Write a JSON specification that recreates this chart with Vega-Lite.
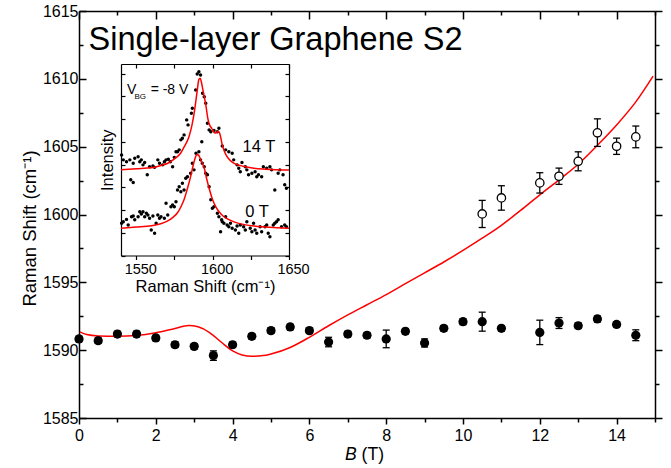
{
  "$schema": "https://vega.github.io/schema/vega-lite/v6.json",
  "width": 576,
  "height": 407,
  "autosize": {"type": "none"},
  "padding": {"left": 79, "top": 11, "right": 16, "bottom": 50},
  "background": "white",
  "config": {
    "view": {"stroke": null},
    "axis": {"grid": false, "domainColor": "black", "tickColor": "black", "labelColor": "black", "titleColor": "black", "labelFont": "Liberation Sans", "titleFont": "Liberation Sans", "labelOverlap": false, "labelFlush": false},
    "text": {"font": "Liberation Sans", "color": "black"}
  },
  "datasets": {
    "one": [{}],
    "curve": [
      {"B": 0.02, "v": 1591.35}, {"B": 0.2, "v": 1591.15}, {"B": 0.5, "v": 1591.05}, {"B": 1.0, "v": 1591.02},
      {"B": 1.5, "v": 1591.08}, {"B": 2.0, "v": 1591.28}, {"B": 2.5, "v": 1591.6}, {"B": 2.85, "v": 1591.82},
      {"B": 3.1, "v": 1591.72}, {"B": 3.4, "v": 1591.3}, {"B": 3.7, "v": 1590.6}, {"B": 4.0, "v": 1589.95},
      {"B": 4.25, "v": 1589.65}, {"B": 4.5, "v": 1589.55}, {"B": 4.8, "v": 1589.6}, {"B": 5.0, "v": 1589.72},
      {"B": 5.5, "v": 1590.2}, {"B": 6.0, "v": 1590.95}, {"B": 6.5, "v": 1591.8}, {"B": 7.0, "v": 1592.6},
      {"B": 7.5, "v": 1593.35}, {"B": 8.0, "v": 1594.1}, {"B": 8.5, "v": 1594.9}, {"B": 9.0, "v": 1595.7},
      {"B": 9.5, "v": 1596.5}, {"B": 10.0, "v": 1597.35}, {"B": 10.5, "v": 1598.25}, {"B": 11.0, "v": 1599.2},
      {"B": 11.5, "v": 1600.3}, {"B": 12.0, "v": 1601.45}, {"B": 12.5, "v": 1602.55}, {"B": 13.0, "v": 1603.7},
      {"B": 13.5, "v": 1605.1}, {"B": 14.0, "v": 1606.6}, {"B": 14.5, "v": 1608.3}, {"B": 14.95, "v": 1610.2}
    ],
    "filled": [
      {"B": 0, "v": 1590.83, "lo": 1590.63, "hi": 1591.03},
      {"B": 0.5, "v": 1590.7, "lo": 1590.5, "hi": 1590.9},
      {"B": 1, "v": 1591.19, "lo": 1590.99, "hi": 1591.39},
      {"B": 1.5, "v": 1591.19, "lo": 1590.99, "hi": 1591.39},
      {"B": 2, "v": 1590.9, "lo": 1590.7, "hi": 1591.1},
      {"B": 2.5, "v": 1590.4, "lo": 1590.2, "hi": 1590.6},
      {"B": 3, "v": 1590.28, "lo": 1590.08, "hi": 1590.48},
      {"B": 3.5, "v": 1589.6, "lo": 1589.25, "hi": 1589.95},
      {"B": 4, "v": 1590.4, "lo": 1590.2, "hi": 1590.6},
      {"B": 4.5, "v": 1591.02, "lo": 1590.82, "hi": 1591.22},
      {"B": 5, "v": 1591.44, "lo": 1591.24, "hi": 1591.64},
      {"B": 5.5, "v": 1591.71, "lo": 1591.51, "hi": 1591.91},
      {"B": 6, "v": 1591.44, "lo": 1591.24, "hi": 1591.64},
      {"B": 6.5, "v": 1590.6, "lo": 1590.25, "hi": 1590.95},
      {"B": 7, "v": 1591.19, "lo": 1590.99, "hi": 1591.39},
      {"B": 7.5, "v": 1591.1, "lo": 1590.9, "hi": 1591.3},
      {"B": 8, "v": 1590.83, "lo": 1590.18, "hi": 1591.48},
      {"B": 8.5, "v": 1591.39, "lo": 1591.19, "hi": 1591.59},
      {"B": 9, "v": 1590.53, "lo": 1590.23, "hi": 1590.83},
      {"B": 9.5, "v": 1591.61, "lo": 1591.41, "hi": 1591.81},
      {"B": 10, "v": 1592.1, "lo": 1591.88, "hi": 1592.32},
      {"B": 10.5, "v": 1592.1, "lo": 1591.4, "hi": 1592.8},
      {"B": 11, "v": 1591.61, "lo": 1591.41, "hi": 1591.81},
      {"B": 12, "v": 1591.31, "lo": 1590.41, "hi": 1592.21},
      {"B": 12.5, "v": 1592.0, "lo": 1591.6, "hi": 1592.4},
      {"B": 13, "v": 1591.8, "lo": 1591.6, "hi": 1592.0},
      {"B": 13.5, "v": 1592.3, "lo": 1592.08, "hi": 1592.52},
      {"B": 14, "v": 1591.9, "lo": 1591.7, "hi": 1592.1},
      {"B": 14.5, "v": 1591.1, "lo": 1590.7, "hi": 1591.5}
    ],
    "open": [
      {"B": 10.5, "v": 1600.04, "lo": 1599.04, "hi": 1601.04},
      {"B": 11, "v": 1601.22, "lo": 1600.32, "hi": 1602.12},
      {"B": 12, "v": 1602.33, "lo": 1601.58, "hi": 1603.08},
      {"B": 12.5, "v": 1602.82, "lo": 1602.22, "hi": 1603.42},
      {"B": 13, "v": 1603.92, "lo": 1603.22, "hi": 1604.62},
      {"B": 13.5, "v": 1606.02, "lo": 1605.02, "hi": 1607.05},
      {"B": 14, "v": 1605.03, "lo": 1604.43, "hi": 1605.63},
      {"B": 14.5, "v": 1605.72, "lo": 1604.92, "hi": 1606.52}
    ],
    "fit": [
      {"s": "14T", "R": 1540, "I": 37.8}, {"s": "14T", "R": 1550, "I": 38.2}, {"s": "14T", "R": 1560, "I": 38.6},
      {"s": "14T", "R": 1566, "I": 39.6}, {"s": "14T", "R": 1570.6, "I": 40.6}, {"s": "14T", "R": 1575, "I": 42.5},
      {"s": "14T", "R": 1579, "I": 45}, {"s": "14T", "R": 1581.5, "I": 48}, {"s": "14T", "R": 1584.5, "I": 52.3},
      {"s": "14T", "R": 1586.5, "I": 57.5}, {"s": "14T", "R": 1588.2, "I": 64}, {"s": "14T", "R": 1589.8, "I": 72},
      {"s": "14T", "R": 1591.0, "I": 77.5}, {"s": "14T", "R": 1591.8, "I": 78}, {"s": "14T", "R": 1592.6, "I": 76.5},
      {"s": "14T", "R": 1593.6, "I": 73}, {"s": "14T", "R": 1594.5, "I": 69.9}, {"s": "14T", "R": 1595.6, "I": 66},
      {"s": "14T", "R": 1596.8, "I": 60.5}, {"s": "14T", "R": 1598, "I": 57.5}, {"s": "14T", "R": 1599.4, "I": 56},
      {"s": "14T", "R": 1601, "I": 54.2}, {"s": "14T", "R": 1602, "I": 53.9}, {"s": "14T", "R": 1603.2, "I": 54.6},
      {"s": "14T", "R": 1604.2, "I": 54.4}, {"s": "14T", "R": 1605.2, "I": 52.3}, {"s": "14T", "R": 1606.2, "I": 49},
      {"s": "14T", "R": 1607.3, "I": 46.5}, {"s": "14T", "R": 1608.5, "I": 44.6}, {"s": "14T", "R": 1610.5, "I": 42.6},
      {"s": "14T", "R": 1613, "I": 41}, {"s": "14T", "R": 1616, "I": 40}, {"s": "14T", "R": 1620, "I": 39.3},
      {"s": "14T", "R": 1626, "I": 38.5}, {"s": "14T", "R": 1635, "I": 38}, {"s": "14T", "R": 1650, "I": 37.6},
      {"s": "0T", "R": 1540, "I": 12}, {"s": "0T", "R": 1550, "I": 12.5}, {"s": "0T", "R": 1560, "I": 13.1},
      {"s": "0T", "R": 1566, "I": 14}, {"s": "0T", "R": 1570, "I": 15}, {"s": "0T", "R": 1574, "I": 16.8},
      {"s": "0T", "R": 1577, "I": 18.8}, {"s": "0T", "R": 1579.5, "I": 21.8}, {"s": "0T", "R": 1581.5, "I": 25},
      {"s": "0T", "R": 1583.5, "I": 29.5}, {"s": "0T", "R": 1585.5, "I": 34.5}, {"s": "0T", "R": 1587.2, "I": 39.5},
      {"s": "0T", "R": 1588.5, "I": 42.8}, {"s": "0T", "R": 1589.7, "I": 44.5}, {"s": "0T", "R": 1590.8, "I": 44.2},
      {"s": "0T", "R": 1592, "I": 42.5}, {"s": "0T", "R": 1593.3, "I": 40.5}, {"s": "0T", "R": 1594.5, "I": 38.5},
      {"s": "0T", "R": 1596, "I": 34}, {"s": "0T", "R": 1597.7, "I": 29.6}, {"s": "0T", "R": 1600, "I": 24.5},
      {"s": "0T", "R": 1602, "I": 21.5}, {"s": "0T", "R": 1604.5, "I": 19}, {"s": "0T", "R": 1607, "I": 17.3},
      {"s": "0T", "R": 1610, "I": 16}, {"s": "0T", "R": 1614, "I": 14.8}, {"s": "0T", "R": 1620, "I": 13.7},
      {"s": "0T", "R": 1630, "I": 12.8}, {"s": "0T", "R": 1640, "I": 12.3}, {"s": "0T", "R": 1650, "I": 12}
    ],
    "dots": [
      {"s": "14T", "R": 1540.4, "I": 44.2}, {"s": "14T", "R": 1541.5, "I": 42.1}, {"s": "14T", "R": 1543.6, "I": 41.3},
      {"s": "14T", "R": 1545.8, "I": 42.1}, {"s": "14T", "R": 1548.0, "I": 40.6}, {"s": "14T", "R": 1549.0, "I": 42.8},
      {"s": "14T", "R": 1546.4, "I": 33.3}, {"s": "14T", "R": 1548.0, "I": 32.1}, {"s": "14T", "R": 1551.2, "I": 43.5},
      {"s": "14T", "R": 1552.3, "I": 41.3}, {"s": "14T", "R": 1553.3, "I": 42.1}, {"s": "14T", "R": 1554.4, "I": 39.9},
      {"s": "14T", "R": 1555.5, "I": 40.9}, {"s": "14T", "R": 1557.2, "I": 35.5}, {"s": "14T", "R": 1558.7, "I": 39.1},
      {"s": "14T", "R": 1560.9, "I": 39.4}, {"s": "14T", "R": 1562.0, "I": 38.8}, {"s": "14T", "R": 1564.1, "I": 42.1},
      {"s": "14T", "R": 1565.2, "I": 40.6}, {"s": "14T", "R": 1567.3, "I": 39.9}, {"s": "14T", "R": 1568.4, "I": 41.3},
      {"s": "14T", "R": 1569.5, "I": 42.1}, {"s": "14T", "R": 1571.0, "I": 42.4}, {"s": "14T", "R": 1572.3, "I": 41.3},
      {"s": "14T", "R": 1573.8, "I": 39.1}, {"s": "14T", "R": 1574.9, "I": 43.2}, {"s": "14T", "R": 1576.0, "I": 45.7},
      {"s": "14T", "R": 1577.0, "I": 45.7}, {"s": "14T", "R": 1578.1, "I": 46.5}, {"s": "14T", "R": 1579.2, "I": 50.9},
      {"s": "14T", "R": 1580.2, "I": 51.6}, {"s": "14T", "R": 1581.3, "I": 53.1}, {"s": "14T", "R": 1583.0, "I": 59.7},
      {"s": "14T", "R": 1583.9, "I": 57.5}, {"s": "14T", "R": 1586.1, "I": 62.6}, {"s": "14T", "R": 1586.7, "I": 64.8},
      {"s": "14T", "R": 1588.9, "I": 72.9}, {"s": "14T", "R": 1589.9, "I": 79.9}, {"s": "14T", "R": 1591.0, "I": 80.9},
      {"s": "14T", "R": 1592.1, "I": 79.5}, {"s": "14T", "R": 1592.9, "I": 50.1}, {"s": "14T", "R": 1593.4, "I": 71.4},
      {"s": "14T", "R": 1594.5, "I": 69.9}, {"s": "14T", "R": 1595.5, "I": 67.0}, {"s": "14T", "R": 1596.6, "I": 58.2},
      {"s": "14T", "R": 1597.7, "I": 55.3}, {"s": "14T", "R": 1598.8, "I": 54.5}, {"s": "14T", "R": 1600.9, "I": 55.0},
      {"s": "14T", "R": 1603.1, "I": 54.5}, {"s": "14T", "R": 1604.1, "I": 56.0}, {"s": "14T", "R": 1606.3, "I": 48.2},
      {"s": "14T", "R": 1608.5, "I": 46.5}, {"s": "14T", "R": 1610.6, "I": 45.7}, {"s": "14T", "R": 1612.8, "I": 45.0},
      {"s": "14T", "R": 1613.8, "I": 42.1}, {"s": "14T", "R": 1616.0, "I": 39.9}, {"s": "14T", "R": 1617.1, "I": 38.4},
      {"s": "14T", "R": 1618.1, "I": 36.9}, {"s": "14T", "R": 1619.2, "I": 40.9}, {"s": "14T", "R": 1621.4, "I": 39.1},
      {"s": "14T", "R": 1622.4, "I": 37.7}, {"s": "14T", "R": 1623.5, "I": 35.5}, {"s": "14T", "R": 1625.7, "I": 36.2},
      {"s": "14T", "R": 1627.8, "I": 36.9}, {"s": "14T", "R": 1628.9, "I": 34.7}, {"s": "14T", "R": 1630.0, "I": 35.5},
      {"s": "14T", "R": 1632.1, "I": 34.7}, {"s": "14T", "R": 1633.2, "I": 39.1}, {"s": "14T", "R": 1635.4, "I": 38.4},
      {"s": "14T", "R": 1637.5, "I": 39.1}, {"s": "14T", "R": 1638.6, "I": 37.7}, {"s": "14T", "R": 1640.7, "I": 28.8},
      {"s": "14T", "R": 1642.9, "I": 36.2}, {"s": "14T", "R": 1644.0, "I": 37.7}, {"s": "14T", "R": 1646.1, "I": 35.5},
      {"s": "14T", "R": 1647.2, "I": 31.1}, {"s": "14T", "R": 1648.3, "I": 29.6},
      {"s": "0T", "R": 1540.4, "I": 14.2}, {"s": "0T", "R": 1541.5, "I": 14.9}, {"s": "0T", "R": 1543.6, "I": 15.9},
      {"s": "0T", "R": 1544.7, "I": 13.4}, {"s": "0T", "R": 1546.9, "I": 17.1}, {"s": "0T", "R": 1548.0, "I": 17.4},
      {"s": "0T", "R": 1549.0, "I": 15.7}, {"s": "0T", "R": 1551.2, "I": 17.1}, {"s": "0T", "R": 1552.3, "I": 19.3},
      {"s": "0T", "R": 1553.3, "I": 18.3}, {"s": "0T", "R": 1554.4, "I": 19.3}, {"s": "0T", "R": 1555.5, "I": 17.1},
      {"s": "0T", "R": 1556.6, "I": 18.6}, {"s": "0T", "R": 1557.6, "I": 17.8}, {"s": "0T", "R": 1558.7, "I": 16.4},
      {"s": "0T", "R": 1559.8, "I": 11.2}, {"s": "0T", "R": 1560.9, "I": 17.4}, {"s": "0T", "R": 1562.0, "I": 9.8},
      {"s": "0T", "R": 1563.0, "I": 14.2}, {"s": "0T", "R": 1564.1, "I": 17.8}, {"s": "0T", "R": 1565.2, "I": 16.4},
      {"s": "0T", "R": 1566.2, "I": 17.1}, {"s": "0T", "R": 1568.4, "I": 16.4}, {"s": "0T", "R": 1569.5, "I": 23.0},
      {"s": "0T", "R": 1570.6, "I": 17.8}, {"s": "0T", "R": 1572.7, "I": 21.5}, {"s": "0T", "R": 1573.8, "I": 22.2},
      {"s": "0T", "R": 1574.9, "I": 21.5}, {"s": "0T", "R": 1576.0, "I": 23.7}, {"s": "0T", "R": 1577.0, "I": 28.8},
      {"s": "0T", "R": 1578.1, "I": 30.3}, {"s": "0T", "R": 1579.2, "I": 28.1}, {"s": "0T", "R": 1580.2, "I": 31.8},
      {"s": "0T", "R": 1581.3, "I": 28.8}, {"s": "0T", "R": 1582.4, "I": 34.0}, {"s": "0T", "R": 1583.5, "I": 34.7},
      {"s": "0T", "R": 1585.6, "I": 36.2}, {"s": "0T", "R": 1586.7, "I": 40.6}, {"s": "0T", "R": 1587.8, "I": 37.7},
      {"s": "0T", "R": 1589.1, "I": 45.0}, {"s": "0T", "R": 1591.0, "I": 45.7}, {"s": "0T", "R": 1592.1, "I": 42.1},
      {"s": "0T", "R": 1593.2, "I": 40.6}, {"s": "0T", "R": 1594.5, "I": 39.1}, {"s": "0T", "R": 1595.5, "I": 36.2},
      {"s": "0T", "R": 1596.6, "I": 35.5}, {"s": "0T", "R": 1597.7, "I": 30.3}, {"s": "0T", "R": 1598.8, "I": 24.5},
      {"s": "0T", "R": 1599.8, "I": 20.8}, {"s": "0T", "R": 1600.9, "I": 21.5}, {"s": "0T", "R": 1603.1, "I": 18.6},
      {"s": "0T", "R": 1604.1, "I": 17.1}, {"s": "0T", "R": 1605.2, "I": 10.5}, {"s": "0T", "R": 1605.9, "I": 15.7},
      {"s": "0T", "R": 1606.3, "I": 14.9}, {"s": "0T", "R": 1607.4, "I": 14.2}, {"s": "0T", "R": 1608.5, "I": 17.1},
      {"s": "0T", "R": 1609.5, "I": 13.4}, {"s": "0T", "R": 1610.6, "I": 12.7}, {"s": "0T", "R": 1611.7, "I": 14.2},
      {"s": "0T", "R": 1612.8, "I": 12.0}, {"s": "0T", "R": 1614.9, "I": 11.2}, {"s": "0T", "R": 1616.0, "I": 13.0},
      {"s": "0T", "R": 1617.1, "I": 9.8}, {"s": "0T", "R": 1618.1, "I": 13.4}, {"s": "0T", "R": 1620.3, "I": 12.7},
      {"s": "0T", "R": 1621.4, "I": 11.2}, {"s": "0T", "R": 1622.4, "I": 14.9}, {"s": "0T", "R": 1624.6, "I": 12.0},
      {"s": "0T", "R": 1625.7, "I": 10.5}, {"s": "0T", "R": 1626.8, "I": 14.2}, {"s": "0T", "R": 1627.8, "I": 11.2},
      {"s": "0T", "R": 1628.9, "I": 9.8}, {"s": "0T", "R": 1631.1, "I": 12.7}, {"s": "0T", "R": 1632.1, "I": 10.5},
      {"s": "0T", "R": 1634.3, "I": 12.7}, {"s": "0T", "R": 1635.4, "I": 13.4}, {"s": "0T", "R": 1636.4, "I": 9.8},
      {"s": "0T", "R": 1637.5, "I": 8.3}, {"s": "0T", "R": 1639.7, "I": 13.4}, {"s": "0T", "R": 1640.7, "I": 14.2},
      {"s": "0T", "R": 1641.8, "I": 14.9}, {"s": "0T", "R": 1642.9, "I": 15.7}, {"s": "0T", "R": 1645.1, "I": 12.7},
      {"s": "0T", "R": 1647.2, "I": 13.4}, {"s": "0T", "R": 1648.3, "I": 12.7}
    ]
  },
  "layer": [
    {
      "layer": [
        {
          "data": {"name": "curve"},
          "mark": {"type": "line", "color": "#ff0000", "strokeWidth": 1.5, "interpolate": "monotone"},
          "encoding": {
            "x": {"field": "B", "type": "quantitative", "scale": {"domain": [0, 15], "nice": false, "zero": false},
              "axis": {"orient": "bottom", "values": [0,1,2,3,4,5,6,7,8,9,10,11,12,13,14,15], "format": "d",
                "labelExpr": "datum.value % 2 === 0 ? datum.label : ''",
                "tickSize": {"condition": {"test": "datum.value % 2 === 0", "value": 6}, "value": 4},
                "labelFontSize": 16, "labelPadding": 3, "title": null, "domainWidth": 1.5, "tickWidth": 1.5}},
            "y": {"field": "v", "type": "quantitative", "scale": {"domain": [1585, 1615], "nice": false, "zero": false},
              "axis": {"orient": "left", "values": [1585,1587.5,1590,1592.5,1595,1597.5,1600,1602.5,1605,1607.5,1610,1612.5,1615], "format": "d",
                "labelExpr": "datum.value % 5 === 0 ? datum.label : ''",
                "tickSize": {"condition": {"test": "datum.value % 5 === 0", "value": -7}, "value": -4},
                "labelFontSize": 16, "labelPadding": 8, "title": "Raman Shift (cm⁻¹)", "titleFontSize": 18.5,
                "titleFontWeight": "normal", "titlePadding": 3, "titleY": 217, "domainWidth": 1.5, "tickWidth": 1.5}}
          }
        },
        {
          "data": {"name": "curve"},
          "mark": {"type": "point", "opacity": 0},
          "encoding": {
            "x": {"field": "B", "type": "quantitative", "scale": {"domain": [0, 15], "nice": false, "zero": false},
              "axis": {"orient": "top", "values": [0,1,2,3,4,5,6,7,8,9,10,11,12,13,14,15], "labels": false,
                "tickSize": {"condition": {"test": "datum.value % 2 === 0", "value": -8}, "value": -4},
                "title": null, "domainWidth": 1.5, "tickWidth": 1.5}},
            "y": {"field": "v", "type": "quantitative", "scale": {"domain": [1585, 1615], "nice": false, "zero": false},
              "axis": {"orient": "right", "values": [1585,1587.5,1590,1592.5,1595,1597.5,1600,1602.5,1605,1607.5,1610,1612.5,1615], "labels": false,
                "tickSize": {"condition": {"test": "datum.value % 5 === 0", "value": 7}, "value": 4},
                "title": null, "domainWidth": 1.5, "tickWidth": 1.5}}
          }
        },
        {
          "data": {"name": "filled"},
          "mark": {"type": "rule", "color": "black", "strokeWidth": 1.3},
          "encoding": {
            "x": {"field": "B", "type": "quantitative", "axis": null},
            "y": {"field": "lo", "type": "quantitative", "axis": null},
            "y2": {"field": "hi"}
          }
        },
        {
          "data": {"name": "filled"},
          "mark": {"type": "tick", "orient": "horizontal", "color": "black", "size": 7, "thickness": 1.3, "opacity": 1},
          "encoding": {
            "x": {"field": "B", "type": "quantitative", "axis": null},
            "y": {"field": "lo", "type": "quantitative", "axis": null}
          }
        },
        {
          "data": {"name": "filled"},
          "mark": {"type": "tick", "orient": "horizontal", "color": "black", "size": 7, "thickness": 1.3, "opacity": 1},
          "encoding": {
            "x": {"field": "B", "type": "quantitative", "axis": null},
            "y": {"field": "hi", "type": "quantitative", "axis": null}
          }
        },
        {
          "data": {"name": "filled"},
          "mark": {"type": "point", "shape": "circle", "filled": true, "color": "black", "size": 85, "opacity": 1},
          "encoding": {
            "x": {"field": "B", "type": "quantitative", "axis": null},
            "y": {"field": "v", "type": "quantitative", "axis": null}
          }
        },
        {
          "data": {"name": "open"},
          "mark": {"type": "rule", "color": "black", "strokeWidth": 1.3},
          "encoding": {
            "x": {"field": "B", "type": "quantitative", "axis": null},
            "y": {"field": "lo", "type": "quantitative", "axis": null},
            "y2": {"field": "hi"}
          }
        },
        {
          "data": {"name": "open"},
          "mark": {"type": "tick", "orient": "horizontal", "color": "black", "size": 7, "thickness": 1.3, "opacity": 1},
          "encoding": {
            "x": {"field": "B", "type": "quantitative", "axis": null},
            "y": {"field": "lo", "type": "quantitative", "axis": null}
          }
        },
        {
          "data": {"name": "open"},
          "mark": {"type": "tick", "orient": "horizontal", "color": "black", "size": 7, "thickness": 1.3, "opacity": 1},
          "encoding": {
            "x": {"field": "B", "type": "quantitative", "axis": null},
            "y": {"field": "hi", "type": "quantitative", "axis": null}
          }
        },
        {
          "data": {"name": "open"},
          "mark": {"type": "point", "shape": "circle", "filled": false, "fill": "white", "stroke": "black", "strokeWidth": 1.3, "size": 70, "opacity": 1, "fillOpacity": 1},
          "encoding": {
            "x": {"field": "B", "type": "quantitative", "axis": null},
            "y": {"field": "v", "type": "quantitative", "axis": null}
          }
        },
        {
          "data": {"name": "one"},
          "mark": {"type": "text", "text": "Single-layer Graphene S2", "fontSize": 32.5, "align": "left", "baseline": "alphabetic"},
          "encoding": {
            "x": {"datum": 0.25, "type": "quantitative", "axis": null},
            "y": {"datum": 1612.16, "type": "quantitative", "axis": null}
          }
        },
        {
          "data": {"name": "one"},
          "mark": {"type": "text", "text": "B", "fontSize": 17.5, "fontStyle": "italic", "align": "left", "baseline": "alphabetic"},
          "encoding": {
            "x": {"datum": 6.93, "type": "quantitative", "axis": null},
            "y": {"datum": 1581.87, "type": "quantitative", "axis": null}
          }
        },
        {
          "data": {"name": "one"},
          "mark": {"type": "text", "text": "(T)", "fontSize": 17.5, "align": "left", "baseline": "alphabetic"},
          "encoding": {
            "x": {"datum": 7.36, "type": "quantitative", "axis": null},
            "y": {"datum": 1581.87, "type": "quantitative", "axis": null}
          }
        }
      ],
      "resolve": {"axis": {"x": "independent", "y": "independent"}}
    },
    {
      "layer": [
        {
          "data": {"name": "dots"},
          "mark": {"type": "point", "shape": "circle", "filled": true, "color": "black", "size": 12, "opacity": 1},
          "encoding": {
            "x": {"field": "R", "type": "quantitative", "scale": {"domain": [1540, 1650], "range": [42, 210], "nice": false, "zero": false},
              "axis": {"orient": "bottom", "offset": -162.5, "values": [1550, 1575, 1600, 1625, 1650], "format": "d",
                "labelExpr": "datum.value % 50 === 0 ? datum.label : ''", "tickSize": 4, "labelOffset": 4,
                "labelFontSize": 14.5, "labelPadding": 3, "title": "Raman Shift (cm⁻¹)", "titleFontSize": 16.5,
                "titleFontWeight": "normal", "titlePadding": 2, "domainWidth": 1.2, "tickWidth": 1.2}},
            "y": {"field": "I", "type": "quantitative", "scale": {"domain": [0, 84.3], "range": [244.5, 53], "nice": false, "zero": false},
              "axis": {"orient": "left", "offset": -42, "values": [0, 10, 20, 30, 40, 50, 60, 70, 80], "labels": false,
                "tickSize": -4, "title": "Intensity", "titleFontSize": 16.5, "titleFontWeight": "normal", "titlePadding": 5,
                "domainWidth": 1.2, "tickWidth": 1.2}}
          }
        },
        {
          "data": {"name": "fit"},
          "mark": {"type": "line", "color": "#ff0000", "strokeWidth": 1.5, "interpolate": "monotone"},
          "encoding": {
            "x": {"field": "R", "type": "quantitative",
              "axis": {"orient": "top", "offset": -53, "values": [1550, 1575, 1600, 1625, 1650], "labels": false,
                "tickSize": -4, "title": null, "domainWidth": 1.2, "tickWidth": 1.2}},
            "y": {"field": "I", "type": "quantitative",
              "axis": {"orient": "right", "offset": -366, "values": [0, 10, 20, 30, 40, 50, 60, 70, 80], "labels": false,
                "tickSize": -4, "title": null, "domainWidth": 1.2, "tickWidth": 1.2}},
            "detail": {"field": "s"}
          }
        },
        {
          "data": {"name": "one"},
          "mark": {"type": "text", "text": "V", "fontSize": 14, "align": "left", "baseline": "alphabetic"},
          "encoding": {
            "x": {"datum": 1543.9, "type": "quantitative", "axis": null},
            "y": {"datum": 70.96, "type": "quantitative", "axis": null}
          }
        },
        {
          "data": {"name": "one"},
          "mark": {"type": "text", "text": "BG", "fontSize": 8, "align": "left", "baseline": "alphabetic"},
          "encoding": {
            "x": {"datum": 1548.8, "type": "quantitative", "axis": null},
            "y": {"datum": 68.9, "type": "quantitative", "axis": null}
          }
        },
        {
          "data": {"name": "one"},
          "mark": {"type": "text", "text": "= -8 V", "fontSize": 14, "align": "left", "baseline": "alphabetic"},
          "encoding": {
            "x": {"datum": 1559.4, "type": "quantitative", "axis": null},
            "y": {"datum": 70.96, "type": "quantitative", "axis": null}
          }
        },
        {
          "data": {"name": "one"},
          "mark": {"type": "text", "text": "14 T", "fontSize": 16.5, "align": "left", "baseline": "alphabetic"},
          "encoding": {
            "x": {"datum": 1619.6, "type": "quantitative", "axis": null},
            "y": {"datum": 45.7, "type": "quantitative", "axis": null}
          }
        },
        {
          "data": {"name": "one"},
          "mark": {"type": "text", "text": "0 T", "fontSize": 16.5, "align": "left", "baseline": "alphabetic"},
          "encoding": {
            "x": {"datum": 1621.4, "type": "quantitative", "axis": null},
            "y": {"datum": 17.1, "type": "quantitative", "axis": null}
          }
        }
      ],
      "resolve": {"axis": {"x": "independent", "y": "independent"}}
    }
  ],
  "resolve": {"scale": {"x": "independent", "y": "independent"}}
}
